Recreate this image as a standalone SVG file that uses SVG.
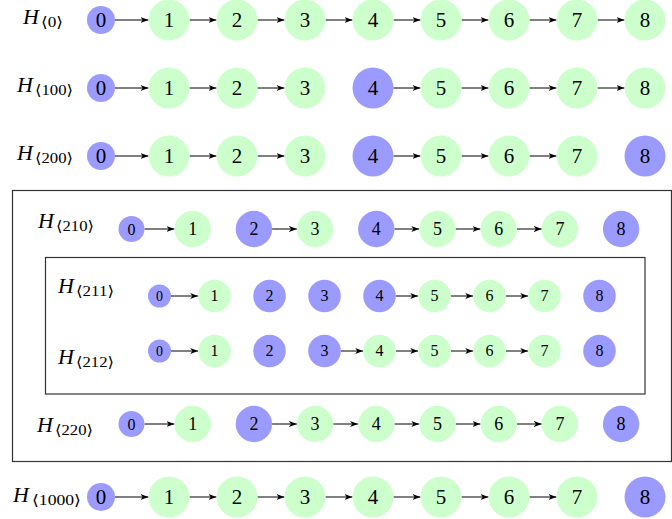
<svg xmlns="http://www.w3.org/2000/svg" width="672" height="519" viewBox="0 0 672 519" font-family="'Liberation Serif', 'DejaVu Serif', serif">
<defs>
<style>
.b{fill:#9b9bff}
.g{fill:#ccffcc}
text{font-family:'Liberation Serif','DejaVu Serif',serif;fill:#000}
.n{text-anchor:middle}
.f1{font-size:21px}
.f2{font-size:18px}
.f2s{font-size:16px}
.f3{font-size:16px}
.f3s{font-size:14px}
.H{font-style:italic;font-size:22px}
.s{font-size:14.5px}
.box{fill:none;stroke:#333;stroke-width:1.2}
#conn line{stroke:#000;stroke-width:1;marker-end:url(#ah)}
</style>
<marker id="ah" viewBox="0 0 8 6" refX="8" refY="3" markerWidth="8" markerHeight="6" markerUnits="userSpaceOnUse" orient="auto">
<path d="M0,0 L8,3 L0,6 L2.2,3 Z" fill="#000"/>
</marker>
</defs>
<rect width="672" height="519" fill="#fff"/>

<g id="boxes">
<rect class="box" x="12.5" y="190.5" width="659" height="271"/>
<rect class="box" x="45.5" y="257.5" width="599.5" height="136.5"/>
</g>

<g id="labels">
<g id="lab0"><text class="H" x="23" y="24">H</text><text class="s" x="41" y="27" textLength="22" lengthAdjust="spacingAndGlyphs">⟨0⟩</text></g>
<g id="lab100"><text class="H" x="17" y="92">H</text><text class="s" x="35" y="95" textLength="38" lengthAdjust="spacingAndGlyphs">⟨100⟩</text></g>
<g id="lab200"><text class="H" x="17" y="160">H</text><text class="s" x="35" y="163" textLength="38" lengthAdjust="spacingAndGlyphs">⟨200⟩</text></g>
<g id="lab210"><text class="H" x="38" y="228">H</text><text class="s" x="56" y="231" textLength="38" lengthAdjust="spacingAndGlyphs">⟨210⟩</text></g>
<g id="lab211"><text class="H" x="58" y="293">H</text><text class="s" x="76" y="296" textLength="38" lengthAdjust="spacingAndGlyphs">⟨211⟩</text></g>
<g id="lab212"><text class="H" x="58" y="364">H</text><text class="s" x="76" y="367" textLength="38" lengthAdjust="spacingAndGlyphs">⟨212⟩</text></g>
<g id="lab220"><text class="H" x="37" y="432">H</text><text class="s" x="55" y="435" textLength="38" lengthAdjust="spacingAndGlyphs">⟨220⟩</text></g>
<g id="lab1000"><text class="H" x="13" y="502">H</text><text class="s" x="32" y="505" textLength="49" lengthAdjust="spacingAndGlyphs">⟨1000⟩</text></g>
</g>

<g id="conn">
<line x1="115" y1="20" x2="148.5" y2="20"/>
<line x1="189.5" y1="20" x2="216.5" y2="20"/>
<line x1="257.5" y1="20" x2="284.5" y2="20"/>
<line x1="325.5" y1="20" x2="352.5" y2="20"/>
<line x1="393.5" y1="20" x2="420.5" y2="20"/>
<line x1="461.5" y1="20" x2="488.5" y2="20"/>
<line x1="529.5" y1="20" x2="556.5" y2="20"/>
<line x1="597.5" y1="20" x2="624.5" y2="20"/>

<line x1="115" y1="88" x2="148.5" y2="88"/>
<line x1="189.5" y1="88" x2="216.5" y2="88"/>
<line x1="257.5" y1="88" x2="284.5" y2="88"/>
<line x1="393.5" y1="88" x2="420.5" y2="88"/>
<line x1="461.5" y1="88" x2="488.5" y2="88"/>
<line x1="529.5" y1="88" x2="556.5" y2="88"/>
<line x1="597.5" y1="88" x2="624.5" y2="88"/>

<line x1="115" y1="156" x2="148.5" y2="156"/>
<line x1="189.5" y1="156" x2="216.5" y2="156"/>
<line x1="257.5" y1="156" x2="284.5" y2="156"/>
<line x1="393.5" y1="156" x2="420.5" y2="156"/>
<line x1="461.5" y1="156" x2="488.5" y2="156"/>
<line x1="529.5" y1="156" x2="556.5" y2="156"/>

<line x1="144.5" y1="229" x2="174.5" y2="229"/>
<line x1="272.1" y1="229" x2="296.9" y2="229"/>
<line x1="394.5" y1="229" x2="419.3" y2="229"/>
<line x1="455.7" y1="229" x2="480.5" y2="229"/>
<line x1="516.9" y1="229" x2="541.7" y2="229"/>

<line x1="171" y1="296" x2="198.2" y2="296"/>
<line x1="395.8" y1="296" x2="418.2" y2="296"/>
<line x1="450.8" y1="296" x2="473.2" y2="296"/>
<line x1="505.8" y1="296" x2="528.2" y2="296"/>

<line x1="171" y1="351" x2="198.2" y2="351"/>
<line x1="340.8" y1="351" x2="363.2" y2="351"/>
<line x1="395.8" y1="351" x2="418.2" y2="351"/>
<line x1="450.8" y1="351" x2="473.2" y2="351"/>
<line x1="505.8" y1="351" x2="528.2" y2="351"/>

<line x1="144.5" y1="424" x2="174.5" y2="424"/>
<line x1="272.1" y1="424" x2="296.9" y2="424"/>
<line x1="333.3" y1="424" x2="358.1" y2="424"/>
<line x1="394.5" y1="424" x2="419.3" y2="424"/>
<line x1="455.7" y1="424" x2="480.5" y2="424"/>
<line x1="516.9" y1="424" x2="541.7" y2="424"/>

<line x1="115" y1="497" x2="148.5" y2="497"/>
<line x1="189.5" y1="497" x2="216.5" y2="497"/>
<line x1="257.5" y1="497" x2="284.5" y2="497"/>
<line x1="325.5" y1="497" x2="352.5" y2="497"/>
<line x1="393.5" y1="497" x2="420.5" y2="497"/>
<line x1="461.5" y1="497" x2="488.5" y2="497"/>
<line x1="529.5" y1="497" x2="556.5" y2="497"/>
</g>

<g id="row0">
<g id="r0n0"><circle class="b" cx="101" cy="20" r="14"/><text class="n f1" x="101" y="27">0</text></g>
<g id="r0n1"><circle class="g" cx="169" cy="20" r="20.5"/><text class="n f1" x="169" y="27">1</text></g>
<g id="r0n2"><circle class="g" cx="237" cy="20" r="20.5"/><text class="n f1" x="237" y="27">2</text></g>
<g id="r0n3"><circle class="g" cx="305" cy="20" r="20.5"/><text class="n f1" x="305" y="27">3</text></g>
<g id="r0n4"><circle class="g" cx="373" cy="20" r="20.5"/><text class="n f1" x="373" y="27">4</text></g>
<g id="r0n5"><circle class="g" cx="441" cy="20" r="20.5"/><text class="n f1" x="441" y="27">5</text></g>
<g id="r0n6"><circle class="g" cx="509" cy="20" r="20.5"/><text class="n f1" x="509" y="27">6</text></g>
<g id="r0n7"><circle class="g" cx="577" cy="20" r="20.5"/><text class="n f1" x="577" y="27">7</text></g>
<g id="r0n8"><circle class="g" cx="645" cy="20" r="20.5"/><text class="n f1" x="645" y="27">8</text></g>
</g>

<g id="row100">
<g id="r100n0"><circle class="b" cx="101" cy="88" r="14"/><text class="n f1" x="101" y="95">0</text></g>
<g id="r100n1"><circle class="g" cx="169" cy="88" r="20.5"/><text class="n f1" x="169" y="95">1</text></g>
<g id="r100n2"><circle class="g" cx="237" cy="88" r="20.5"/><text class="n f1" x="237" y="95">2</text></g>
<g id="r100n3"><circle class="g" cx="305" cy="88" r="20.5"/><text class="n f1" x="305" y="95">3</text></g>
<g id="r100n4"><circle class="b" cx="373" cy="88" r="20.5"/><text class="n f1" x="373" y="95">4</text></g>
<g id="r100n5"><circle class="g" cx="441" cy="88" r="20.5"/><text class="n f1" x="441" y="95">5</text></g>
<g id="r100n6"><circle class="g" cx="509" cy="88" r="20.5"/><text class="n f1" x="509" y="95">6</text></g>
<g id="r100n7"><circle class="g" cx="577" cy="88" r="20.5"/><text class="n f1" x="577" y="95">7</text></g>
<g id="r100n8"><circle class="g" cx="645" cy="88" r="20.5"/><text class="n f1" x="645" y="95">8</text></g>
</g>

<g id="row200">
<g id="r200n0"><circle class="b" cx="101" cy="156" r="14"/><text class="n f1" x="101" y="163">0</text></g>
<g id="r200n1"><circle class="g" cx="169" cy="156" r="20.5"/><text class="n f1" x="169" y="163">1</text></g>
<g id="r200n2"><circle class="g" cx="237" cy="156" r="20.5"/><text class="n f1" x="237" y="163">2</text></g>
<g id="r200n3"><circle class="g" cx="305" cy="156" r="20.5"/><text class="n f1" x="305" y="163">3</text></g>
<g id="r200n4"><circle class="b" cx="373" cy="156" r="20.5"/><text class="n f1" x="373" y="163">4</text></g>
<g id="r200n5"><circle class="g" cx="441" cy="156" r="20.5"/><text class="n f1" x="441" y="163">5</text></g>
<g id="r200n6"><circle class="g" cx="509" cy="156" r="20.5"/><text class="n f1" x="509" y="163">6</text></g>
<g id="r200n7"><circle class="g" cx="577" cy="156" r="20.5"/><text class="n f1" x="577" y="163">7</text></g>
<g id="r200n8"><circle class="b" cx="645" cy="156" r="20.5"/><text class="n f1" x="645" y="163">8</text></g>
</g>

<g id="row210">
<g id="r210n0"><circle class="b" cx="131.5" cy="229" r="13"/><text class="n f2s" x="131.5" y="234.5">0</text></g>
<g id="r210n1"><circle class="g" cx="192.7" cy="229" r="18.2"/><text class="n f2" x="192.7" y="235">1</text></g>
<g id="r210n2"><circle class="b" cx="253.9" cy="229" r="18.2"/><text class="n f2" x="253.9" y="235">2</text></g>
<g id="r210n3"><circle class="g" cx="315.1" cy="229" r="18.2"/><text class="n f2" x="315.1" y="235">3</text></g>
<g id="r210n4"><circle class="b" cx="376.3" cy="229" r="18.2"/><text class="n f2" x="376.3" y="235">4</text></g>
<g id="r210n5"><circle class="g" cx="437.5" cy="229" r="18.2"/><text class="n f2" x="437.5" y="235">5</text></g>
<g id="r210n6"><circle class="g" cx="498.7" cy="229" r="18.2"/><text class="n f2" x="498.7" y="235">6</text></g>
<g id="r210n7"><circle class="g" cx="559.9" cy="229" r="18.2"/><text class="n f2" x="559.9" y="235">7</text></g>
<g id="r210n8"><circle class="b" cx="621.1" cy="229" r="18.2"/><text class="n f2" x="621.1" y="235">8</text></g>
</g>

<g id="row211">
<g id="r211n0"><circle class="b" cx="159.5" cy="296" r="11.5"/><text class="n f3s" x="159.5" y="300.8">0</text></g>
<g id="r211n1"><circle class="g" cx="214.5" cy="296" r="16.3"/><text class="n f3" x="214.5" y="301.4">1</text></g>
<g id="r211n2"><circle class="b" cx="269.5" cy="296" r="16.3"/><text class="n f3" x="269.5" y="301.4">2</text></g>
<g id="r211n3"><circle class="b" cx="324.5" cy="296" r="16.3"/><text class="n f3" x="324.5" y="301.4">3</text></g>
<g id="r211n4"><circle class="b" cx="379.5" cy="296" r="16.3"/><text class="n f3" x="379.5" y="301.4">4</text></g>
<g id="r211n5"><circle class="g" cx="434.5" cy="296" r="16.3"/><text class="n f3" x="434.5" y="301.4">5</text></g>
<g id="r211n6"><circle class="g" cx="489.5" cy="296" r="16.3"/><text class="n f3" x="489.5" y="301.4">6</text></g>
<g id="r211n7"><circle class="g" cx="544.5" cy="296" r="16.3"/><text class="n f3" x="544.5" y="301.4">7</text></g>
<g id="r211n8"><circle class="b" cx="599.5" cy="296" r="16.3"/><text class="n f3" x="599.5" y="301.4">8</text></g>
</g>

<g id="row212">
<g id="r212n0"><circle class="b" cx="159.5" cy="351" r="11.5"/><text class="n f3s" x="159.5" y="355.8">0</text></g>
<g id="r212n1"><circle class="g" cx="214.5" cy="351" r="16.3"/><text class="n f3" x="214.5" y="356.4">1</text></g>
<g id="r212n2"><circle class="b" cx="269.5" cy="351" r="16.3"/><text class="n f3" x="269.5" y="356.4">2</text></g>
<g id="r212n3"><circle class="b" cx="324.5" cy="351" r="16.3"/><text class="n f3" x="324.5" y="356.4">3</text></g>
<g id="r212n4"><circle class="g" cx="379.5" cy="351" r="16.3"/><text class="n f3" x="379.5" y="356.4">4</text></g>
<g id="r212n5"><circle class="g" cx="434.5" cy="351" r="16.3"/><text class="n f3" x="434.5" y="356.4">5</text></g>
<g id="r212n6"><circle class="g" cx="489.5" cy="351" r="16.3"/><text class="n f3" x="489.5" y="356.4">6</text></g>
<g id="r212n7"><circle class="g" cx="544.5" cy="351" r="16.3"/><text class="n f3" x="544.5" y="356.4">7</text></g>
<g id="r212n8"><circle class="b" cx="599.5" cy="351" r="16.3"/><text class="n f3" x="599.5" y="356.4">8</text></g>
</g>

<g id="row220">
<g id="r220n0"><circle class="b" cx="131.5" cy="424" r="13"/><text class="n f2s" x="131.5" y="429.5">0</text></g>
<g id="r220n1"><circle class="g" cx="192.7" cy="424" r="18.2"/><text class="n f2" x="192.7" y="430">1</text></g>
<g id="r220n2"><circle class="b" cx="253.9" cy="424" r="18.2"/><text class="n f2" x="253.9" y="430">2</text></g>
<g id="r220n3"><circle class="g" cx="315.1" cy="424" r="18.2"/><text class="n f2" x="315.1" y="430">3</text></g>
<g id="r220n4"><circle class="g" cx="376.3" cy="424" r="18.2"/><text class="n f2" x="376.3" y="430">4</text></g>
<g id="r220n5"><circle class="g" cx="437.5" cy="424" r="18.2"/><text class="n f2" x="437.5" y="430">5</text></g>
<g id="r220n6"><circle class="g" cx="498.7" cy="424" r="18.2"/><text class="n f2" x="498.7" y="430">6</text></g>
<g id="r220n7"><circle class="g" cx="559.9" cy="424" r="18.2"/><text class="n f2" x="559.9" y="430">7</text></g>
<g id="r220n8"><circle class="b" cx="621.1" cy="424" r="18.2"/><text class="n f2" x="621.1" y="430">8</text></g>
</g>

<g id="row1000">
<g id="r1000n0"><circle class="b" cx="101" cy="497" r="14"/><text class="n f1" x="101" y="504">0</text></g>
<g id="r1000n1"><circle class="g" cx="169" cy="497" r="20.5"/><text class="n f1" x="169" y="504">1</text></g>
<g id="r1000n2"><circle class="g" cx="237" cy="497" r="20.5"/><text class="n f1" x="237" y="504">2</text></g>
<g id="r1000n3"><circle class="g" cx="305" cy="497" r="20.5"/><text class="n f1" x="305" y="504">3</text></g>
<g id="r1000n4"><circle class="g" cx="373" cy="497" r="20.5"/><text class="n f1" x="373" y="504">4</text></g>
<g id="r1000n5"><circle class="g" cx="441" cy="497" r="20.5"/><text class="n f1" x="441" y="504">5</text></g>
<g id="r1000n6"><circle class="g" cx="509" cy="497" r="20.5"/><text class="n f1" x="509" y="504">6</text></g>
<g id="r1000n7"><circle class="g" cx="577" cy="497" r="20.5"/><text class="n f1" x="577" y="504">7</text></g>
<g id="r1000n8"><circle class="b" cx="645" cy="497" r="20.5"/><text class="n f1" x="645" y="504">8</text></g>
</g>
</svg>
